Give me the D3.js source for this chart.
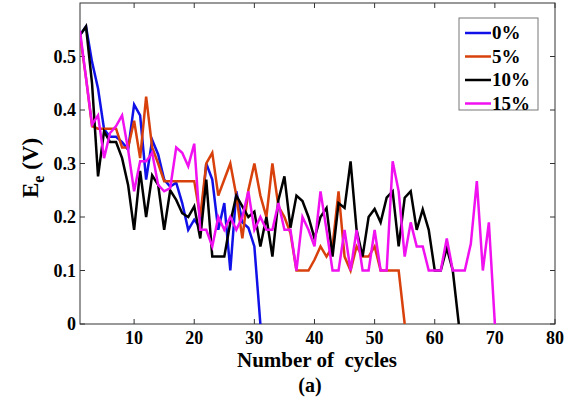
<!DOCTYPE html>
<html>
<head>
<meta charset="utf-8">
<script src="https://cdn.jsdelivr.net/npm/d3@7"></script>
</head>
<body style="margin:0">
<script>
// series values (E_e in V) for each cycle, starting at cycle 1
const s0 = [0.54, 0.556, 0.49, 0.44, 0.364, 0.35, 0.35, 0.34, 0.326, 0.41, 0.39, 0.27, 0.344, 0.317, 0.27,
            0.257, 0.264, 0.226, 0.176, 0.195, 0.18, 0.30, 0.27, 0.176, 0.226, 0.10, 0.248, 0.19, 0.18, 0.145, 0];
const s5 = [0.54, 0.46, 0.37, 0.365, 0.365, 0.365, 0.365, 0.33, 0.33, 0.38, 0.31, 0.425, 0.33, 0.30, 0.267,
            0.267, 0.267, 0.267, 0.267, 0.267, 0.20, 0.30, 0.32, 0.24, 0.27, 0.30, 0.24, 0.16, 0.25, 0.30,
            0.24, 0.20, 0.30, 0.22, 0.20, 0.17, 0.10, 0.10, 0.10, 0.12, 0.145, 0.126, 0.145, 0.248, 0.126,
            0.10, 0.145, 0.126, 0.126, 0.145, 0.10, 0.10, 0.10, 0.10, 0];
const s10 = [0.54, 0.556, 0.45, 0.276, 0.36, 0.34, 0.34, 0.31, 0.26, 0.176, 0.286, 0.20, 0.278, 0.26, 0.176,
             0.25, 0.232, 0.207, 0.20, 0.22, 0.16, 0.27, 0.126, 0.126, 0.126, 0.19, 0.24, 0.22, 0.20, 0.21,
             0.145, 0.20, 0.126, 0.232, 0.276, 0.18, 0.24, 0.23, 0.20, 0.16, 0.20, 0.217, 0.126, 0.226, 0.217,
             0.304, 0.176, 0.126, 0.20, 0.215, 0.19, 0.236, 0.248, 0.145, 0.236, 0.248, 0.176, 0.214, 0.176,
             0.10, 0.10, 0.142, 0.10, 0];
const s15 = [0.548, 0.46, 0.373, 0.39, 0.31, 0.357, 0.37, 0.39, 0.326, 0.248, 0.304, 0.304, 0.32, 0.26, 0.248,
             0.254, 0.33, 0.32, 0.295, 0.337, 0.176, 0.176, 0.145, 0.20, 0.176, 0.20, 0.176, 0.20, 0.248, 0.176,
             0.20, 0.176, 0.176, 0.226, 0.176, 0.176, 0.10, 0.20, 0.176, 0.145, 0.248, 0.176, 0.10, 0.10, 0.176,
             0.10, 0.176, 0.10, 0.10, 0.176, 0.10, 0.10, 0.304, 0.248, 0.126, 0.19, 0.145, 0.145, 0.10, 0.10,
             0.10, 0.16, 0.10, 0.10, 0.10, 0.15, 0.267, 0.10, 0.19, 0];

const seriesNames = ['0%', '5%', '10%', '15%'];
const seriesColors = ['#1010e8', '#d8400c', '#000000', '#f010f0'];
const seriesData = [s0, s5, s10, s15];

const xTicks = [10, 20, 30, 40, 50, 60, 70, 80];
const yTicks = [0, 0.1, 0.2, 0.3, 0.4, 0.5];

const width = 579, height = 403;
const margin = { left: 80, right: 24, top: 3, bottom: 79 };

// font set inline on each text element, exactly like the font check that rendered serif
function serifText(sel) {
  return sel.attr('font-weight', 'bold').style('font-family', "'Liberation Serif'");
}

const svg = d3.select('body')
              .append('svg')
              .attr('width', width)
              .attr('height', height);

const x = d3.scaleLinear().domain([1, 80]).range([margin.left, width - margin.right]);
const y = d3.scaleLinear().domain([0, 0.6]).range([height - margin.bottom, margin.top]);

// frame
svg.append('rect')
   .attr('x', x(1)).attr('y', y(0.6))
   .attr('width', x(80) - x(1)).attr('height', y(0) - y(0.6))
   .attr('fill', 'none').attr('stroke', '#333').attr('stroke-width', 1);

// inward ticks on all four sides
const tickLen = 5;
svg.append('g').selectAll('line')
   .data(xTicks)
   .enter().append('line')
   .attr('x1', d => x(d)).attr('x2', d => x(d))
   .attr('y1', y(0)).attr('y2', y(0) - tickLen)
   .attr('stroke', '#333');
svg.append('g').selectAll('line')
   .data(xTicks)
   .enter().append('line')
   .attr('x1', d => x(d)).attr('x2', d => x(d))
   .attr('y1', y(0.6)).attr('y2', y(0.6) + tickLen)
   .attr('stroke', '#333');
svg.append('g').selectAll('line')
   .data(yTicks)
   .enter().append('line')
   .attr('x1', x(1)).attr('x2', x(1) + tickLen)
   .attr('y1', d => y(d)).attr('y2', d => y(d))
   .attr('stroke', '#333');
svg.append('g').selectAll('line')
   .data(yTicks)
   .enter().append('line')
   .attr('x1', x(80)).attr('x2', x(80) - tickLen)
   .attr('y1', d => y(d)).attr('y2', d => y(d))
   .attr('stroke', '#333');

// tick labels
svg.append('g').selectAll('text')
   .data(xTicks)
   .enter().append('text')
   .attr('x', d => x(d)).attr('y', y(0) + 20)
   .attr('text-anchor', 'middle')
   .attr('font-size', 18)
   .call(serifText)
   .text(d => d);
svg.append('g').selectAll('text')
   .data(yTicks)
   .enter().append('text')
   .attr('x', x(1) - 4).attr('y', d => y(d) + 6)
   .attr('text-anchor', 'end')
   .attr('font-size', 18)
   .call(serifText)
   .text(d => d);

// lines
const line = d3.line()
               .x((d, i) => x(i + 1))
               .y(d => y(d));

svg.append('clipPath').attr('id', 'plotClip')
   .append('rect')
   .attr('x', x(1)).attr('y', y(0.6))
   .attr('width', x(80) - x(1)).attr('height', y(0) - y(0.6));

svg.append('g')
   .attr('clip-path', 'url(#plotClip)')
   .selectAll('path')
   .data(seriesData)
   .enter().append('path')
   .attr('d', line)
   .attr('fill', 'none')
   .attr('stroke', (d, i) => seriesColors[i])
   .attr('stroke-width', 2.5)
   .attr('stroke-linejoin', 'miter');

// axis titles
svg.append('text')
   .attr('x', 317).attr('y', 367)
   .attr('text-anchor', 'middle')
   .attr('font-size', 21)
   .call(serifText)
   .style('white-space', 'pre')
   .text('Number of  cycles');

svg.append('text')
   .attr('x', 310).attr('y', 392)
   .attr('text-anchor', 'middle')
   .attr('font-size', 20)
   .call(serifText)
   .text('(a)');

const yLabel = svg.append('text')
                  .attr('transform', 'translate(38, 168) rotate(-90)')
                  .attr('text-anchor', 'middle')
                  .attr('font-size', 23)
                  .call(serifText);
yLabel.append('tspan').call(serifText).text('E');
yLabel.append('tspan').call(serifText).attr('font-size', 16).attr('dy', 6).text('e');
yLabel.append('tspan').call(serifText).attr('dy', -6).text(' (V)');

// legend
const legend = svg.append('g').attr('transform', 'translate(459, 18)');
legend.append('rect')
      .attr('width', 79).attr('height', 92)
      .attr('fill', '#fff').attr('stroke', '#777').attr('stroke-width', 1);
const entry = legend.selectAll('g.entry')
                    .data(seriesNames)
                    .enter().append('g')
                    .attr('class', 'entry')
                    .attr('transform', (d, i) => `translate(0, ${15 + i * 23.5})`);
entry.append('line')
     .attr('x1', 6).attr('x2', 32)
     .attr('stroke', (d, i) => seriesColors[i])
     .attr('stroke-width', 2.5);
entry.append('text')
     .attr('x', 33).attr('y', 6)
     .attr('font-size', 19)
     .call(serifText)
     .text(d => d);
</script>
</body>
</html>
